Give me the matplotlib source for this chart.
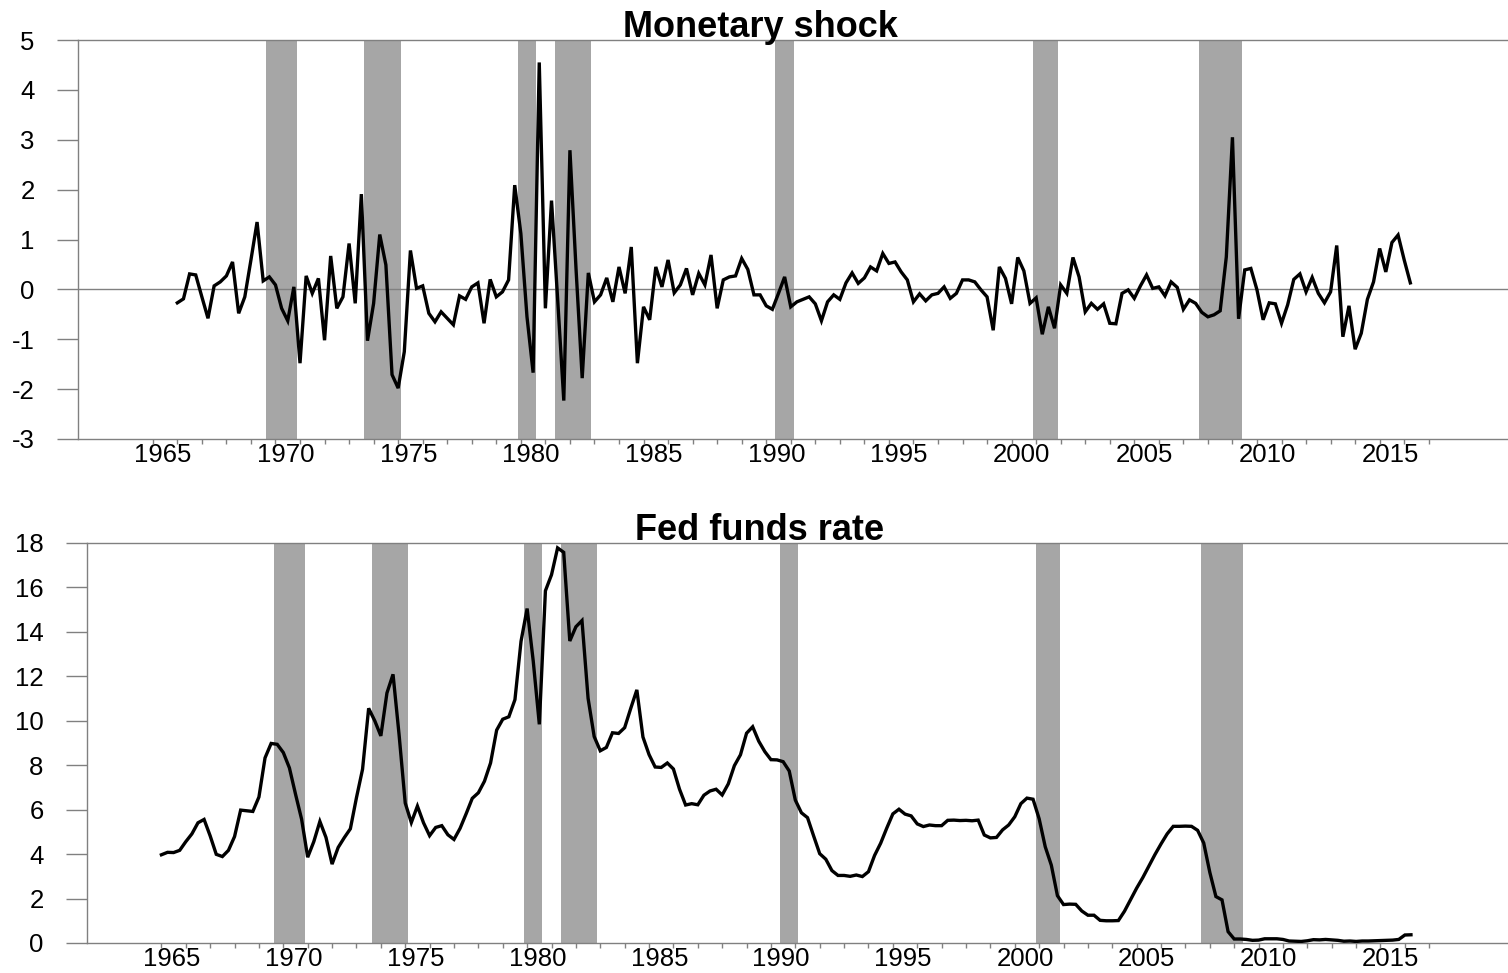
import numpy as np
import matplotlib.pyplot as plt

plt.rcParams['font.family'] = ['Liberation Sans', 'DejaVu Sans']

# monetary shock, quarterly 1966Q1 - 2016Q2
shock = [
    -0.27, -0.19, 0.31, 0.29,   # 1966
    -0.15, -0.58, 0.07, 0.15,   # 1967
    0.27, 0.55, -0.48, -0.15,   # 1968
    0.59, 1.35, 0.17, 0.25,     # 1969
    0.09, -0.38, -0.63, 0.05,   # 1970
    -1.48, 0.27, -0.08, 0.22,   # 1971
    -1.02, 0.67, -0.38, -0.15,  # 1972
    0.92, -0.28, 1.91, -1.03,   # 1973
    -0.28, 1.10, 0.49, -1.71,   # 1974
    -1.98, -1.25, 0.78, 0.02,   # 1975
    0.07, -0.48, -0.65, -0.45,  # 1976
    -0.58, -0.71, -0.13, -0.20, # 1977
    0.05, 0.13, -0.68, 0.20,    # 1978
    -0.15, -0.05, 0.19, 2.09,   # 1979
    1.12, -0.55, -1.67, 4.55,   # 1980
    -0.38, 1.78, -0.20, -2.23,  # 1981
    2.79, 0.40, -1.78, 0.33,    # 1982
    -0.25, -0.11, 0.23, -0.25,  # 1983
    0.45, -0.08, 0.85, -1.48,   # 1984
    -0.35, -0.61, 0.45, 0.05,   # 1985
    0.59, -0.07, 0.09, 0.42,    # 1986
    -0.11, 0.32, 0.09, 0.69,    # 1987
    -0.38, 0.19, 0.25, 0.27,    # 1988
    0.62, 0.40, -0.11, -0.11,   # 1989
    -0.33, -0.40, -0.08, 0.25,  # 1990
    -0.35, -0.25, -0.20, -0.15, # 1991
    -0.29, -0.63, -0.25, -0.11, # 1992
    -0.20, 0.13, 0.33, 0.12,    # 1993
    0.23, 0.45, 0.37, 0.72,     # 1994
    0.52, 0.55, 0.35, 0.19,     # 1995
    -0.25, -0.09, -0.23, -0.11, # 1996
    -0.08, 0.05, -0.18, -0.08,  # 1997
    0.19, 0.19, 0.15, -0.01,    # 1998
    -0.15, -0.82, 0.45, 0.22,   # 1999
    -0.29, 0.64, 0.37, -0.28,   # 2000
    -0.17, -0.90, -0.35, -0.78, # 2001
    0.09, -0.08, 0.64, 0.25,    # 2002
    -0.45, -0.28, -0.40, -0.29, # 2003
    -0.68, -0.69, -0.08, -0.01, # 2004
    -0.18, 0.07, 0.29, 0.02,    # 2005
    0.05, -0.13, 0.15, 0.04,    # 2006
    -0.40, -0.21, -0.28, -0.46, # 2007
    -0.55, -0.51, -0.43, 0.65,  # 2008
    3.05, -0.59, 0.39, 0.42,    # 2009
    -0.01, -0.61, -0.27, -0.29, # 2010
    -0.68, -0.31, 0.20, 0.31,   # 2011
    -0.05, 0.24, -0.08, -0.27,  # 2012
    -0.05, 0.88, -0.95, -0.33,  # 2013
    -1.20, -0.88, -0.20, 0.15,  # 2014
    0.82, 0.35, 0.94, 1.09,     # 2015
    0.59, 0.13,                 # 2016
]
shock_start = 1966

# fed funds rate, quarterly 1965Q1 - 2016Q2
ffr = [
    3.97, 4.08, 4.07, 4.17,
    4.56, 4.91, 5.41, 5.56,
    4.82, 3.99, 3.89, 4.17,
    4.79, 5.98, 5.95, 5.92,
    6.57, 8.33, 8.98, 8.94,
    8.57, 7.88, 6.70, 5.57,
    3.86, 4.56, 5.47, 4.75,
    3.55, 4.30, 4.74, 5.14,
    6.54, 7.82, 10.56, 10.00,
    9.32, 11.25, 12.09, 9.35,
    6.30, 5.42, 6.16, 5.41,
    4.83, 5.20, 5.28, 4.87,
    4.66, 5.16, 5.82, 6.51,
    6.76, 7.28, 8.10, 9.58,
    10.07, 10.18, 10.95, 13.58,
    15.05, 12.69, 9.84, 15.85,
    16.57, 17.78, 17.58, 13.59,
    14.23, 14.51, 11.01, 9.29,
    8.65, 8.80, 9.46, 9.43,
    9.69, 10.56, 11.39, 9.27,
    8.48, 7.92, 7.90, 8.10,
    7.83, 6.92, 6.21, 6.27,
    6.22, 6.65, 6.84, 6.92,
    6.66, 7.16, 7.98, 8.47,
    9.44, 9.73, 9.08, 8.61,
    8.25, 8.24, 8.16, 7.74,
    6.43, 5.86, 5.64, 4.82,
    4.02, 3.77, 3.26, 3.04,
    3.04, 3.00, 3.06, 2.99,
    3.21, 3.94, 4.49, 5.17,
    5.81, 6.02, 5.80, 5.72,
    5.36, 5.24, 5.31, 5.28,
    5.28, 5.52, 5.53, 5.51,
    5.52, 5.50, 5.53, 4.86,
    4.73, 4.75, 5.09, 5.31,
    5.68, 6.27, 6.52, 6.47,
    5.59, 4.33, 3.50, 2.13,
    1.73, 1.75, 1.74, 1.44,
    1.25, 1.25, 1.02, 1.00,
    1.00, 1.01, 1.43, 1.95,
    2.47, 2.94, 3.46, 3.98,
    4.46, 4.91, 5.25, 5.25,
    5.26, 5.25, 5.07, 4.50,
    3.18, 2.09, 1.94, 0.51,
    0.18, 0.18, 0.16, 0.12,
    0.13, 0.19, 0.19, 0.19,
    0.16, 0.09, 0.08, 0.07,
    0.10, 0.15, 0.14, 0.16,
    0.14, 0.12, 0.08, 0.09,
    0.07, 0.09, 0.09, 0.10,
    0.11, 0.12, 0.13, 0.16,
    0.36, 0.37,
]
ffr_start = 1965

# recessions: first and last quarter (year, quarter)
rec_first = [(1969, 4), (1973, 4), (1980, 1), (1981, 3), (1990, 3), (2001, 1), (2007, 4)]
rec_last = [(1970, 4), (1975, 1), (1980, 3), (1982, 4), (1991, 1), (2001, 4), (2009, 2)]

year_labels = list(range(1965, 2016, 5))
year_ticks = list(range(1965, 2018))

grey = '#808080'
shade = '#a6a6a6'


def qtime(y, q):
    return y + (q - 1) / 4.0


def draw_panel(ax, start, values, ylim, yticks, title, title_y):
    t = start + np.arange(len(values)) / 4.0
    for a, b in zip(rec_first, rec_last):
        ax.axvspan(qtime(*a) - 0.125, qtime(*b) + 0.125, color=shade, lw=0, zorder=1)
    ax.plot(t, values, color='black', lw=2.4, zorder=3, solid_joinstyle='miter')
    ax.set_xlim(1961.94, 2020.23)
    ax.set_ylim(*ylim)
    ax.spines['right'].set_visible(False)
    for s in ['top', 'left', 'bottom']:
        ax.spines[s].set_color(grey)
        ax.spines[s].set_linewidth(1)
    ax.set_yticks(yticks)
    ax.set_yticklabels([str(v) for v in yticks])
    ax.tick_params(axis='y', length=15, width=1, color=grey, pad=16, labelsize=18.5)
    ax.set_xticks([y + 0.42 for y in year_labels])
    ax.set_xticklabels([str(y) for y in year_labels])
    ax.tick_params(axis='x', which='major', length=0, pad=3, labelsize=18.5)
    ax.set_xticks(year_ticks, minor=True)
    ax.tick_params(axis='x', which='minor', length=3.5, width=1, color=grey)
    fig.text(0.504, title_y, title, ha='center', va='baseline',
             fontsize=26, fontweight='bold')


fig = plt.figure(figsize=(15.08, 9.73), dpi=100)

ax1 = fig.add_axes([77.7 / 1508, 1 - 439 / 973, 1 - 77.7 / 1508, 399 / 973])
ax1.axhline(0, color=grey, lw=1, zorder=2)
draw_panel(ax1, shock_start, shock, (-3, 5), list(range(-3, 6)), 'Monetary shock', 1 - 37 / 973)

ax2 = fig.add_axes([86.8 / 1508, 1 - 943 / 973, 1 - 86.8 / 1508, 400 / 973])
draw_panel(ax2, ffr_start, ffr, (0, 18), list(range(0, 19, 2)), 'Fed funds rate', 1 - 540 / 973)

fig.savefig('out.png', dpi=100)
